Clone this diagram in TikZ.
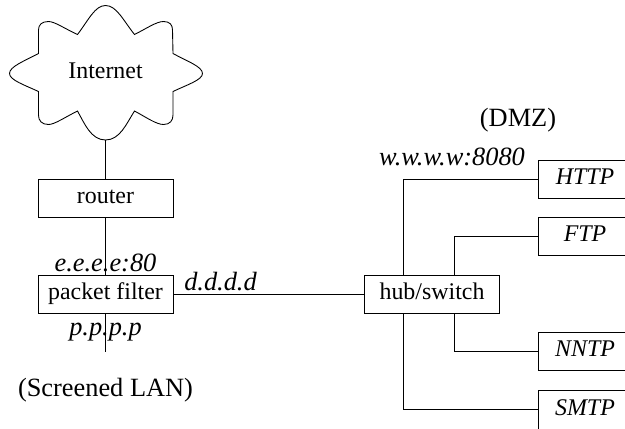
\documentclass[tikz,border=0pt]{standalone}
\usepackage{fontspec}
\setmainfont{Liberation Serif}
\newcommand{\figsize}{\fontsize{13.6}{16}\selectfont}
\newcommand{\labsize}{\fontsize{15}{18}\selectfont}
\tikzset{
  wire/.style = {line width = 0.5pt},
  netbox/.style = {draw, line width = 0.5pt, minimum width = 2.7cm, minimum height = 0.76cm,
    inner sep = 0pt, text height = 0.33cm, text depth = 0.10cm, font = \figsize},
  srvbox/.style = {netbox, minimum width = 1.88cm, font = \figsize\itshape},
  addr/.style = {anchor = base, inner sep = 0pt, font = \labsize\itshape},
  caption/.style = {anchor = base, inner sep = 0pt, font = \labsize}
}

\begin{document}
\begin{tikzpicture}

\path[use as bounding box] (0,0) rectangle (12.5,8.56);
\clip (0,0) rectangle (12.5,8.56);

% cloud
\draw[wire] (2.11,8.45)
  .. controls (2.33,8.45) and (2.46,8.16) .. (2.69,7.87)
  .. controls (2.93,7.99) and (3.13,8.13) .. (3.27,8.13)
  .. controls (3.40,8.13) and (3.45,8.06) .. (3.45,7.96)
  -- (3.46,7.49)
  .. controls (3.73,7.34) and (4.05,7.23) .. (4.05,7.09)
  .. controls (4.05,6.96) and (3.73,6.86) .. (3.46,6.73)
  -- (3.46,6.26)
  .. controls (3.46,6.15) and (3.40,6.07) .. (3.27,6.07)
  .. controls (3.13,6.07) and (2.93,6.21) .. (2.69,6.34)
  .. controls (2.53,6.09) and (2.40,5.76) .. (2.11,5.76)
  .. controls (1.82,5.76) and (1.69,6.09) .. (1.55,6.34)
  .. controls (1.29,6.21) and (1.09,6.07) .. (0.97,6.07)
  .. controls (0.83,6.07) and (0.77,6.15) .. (0.77,6.26)
  -- (0.77,6.73)
  .. controls (0.49,6.86) and (0.19,6.96) .. (0.19,7.09)
  .. controls (0.19,7.23) and (0.49,7.34) .. (0.77,7.49)
  -- (0.77,7.96)
  .. controls (0.77,8.06) and (0.83,8.13) .. (0.97,8.13)
  .. controls (1.09,8.13) and (1.29,7.99) .. (1.55,7.87)
  .. controls (1.77,8.16) and (1.90,8.45) .. (2.11,8.45) -- cycle;
\node[anchor = base, inner sep = 0pt, font = \figsize] (inet) at (2.11,6.99) {Internet};
\coordinate (cloudb) at (2.11,5.76);

\node[netbox] (router) at (2.11,4.6) {router};
\node[netbox] (pfilter) at (2.11,2.68) {packet filter};
\node[netbox] (hub) at (8.64,2.68) {hub/switch};

\node[srvbox] (http) at (11.7,4.98) {HTTP};
\node[srvbox] (ftp) at (11.7,3.84) {FTP};
\node[srvbox] (nntp) at (11.7,1.54) {NNTP};
\node[srvbox, minimum height = 0.78cm] (smtp) at (11.7,0.37) {SMTP};

\coordinate (lan) at (2.11,1.52);
\coordinate (huba) at (8.07,2.68);
\coordinate (hubb) at (9.09,2.68);

\draw[wire] (cloudb) -- (router);
\draw[wire] (router) -- (pfilter);
\draw[wire] (pfilter) -- (lan);
\draw[wire] (pfilter) -- (hub);

\draw[wire] (huba |- hub.north) |- (http.west);
\draw[wire] (hubb |- hub.north) |- (ftp.west);
\draw[wire] (hubb |- hub.south) |- (nntp.west);
\draw[wire] (huba |- hub.south) |- (smtp.west);

\node[addr] (eaddr) at (2.11,3.14) {e.e.e.e:80};
\node[addr] (paddr) at (2.11,1.86) {p.p.p.p};
\node[addr] (daddr) at (4.41,2.76) {d.d.d.d};
\node[addr] (waddr) at (9.04,5.26) {w.w.w.w:8080};

\node[caption] (dmz) at (10.36,6.03) {(DMZ)};
\node[caption] (slan) at (2.11,0.64) {(Screened LAN)};

\end{tikzpicture}
\end{document}
